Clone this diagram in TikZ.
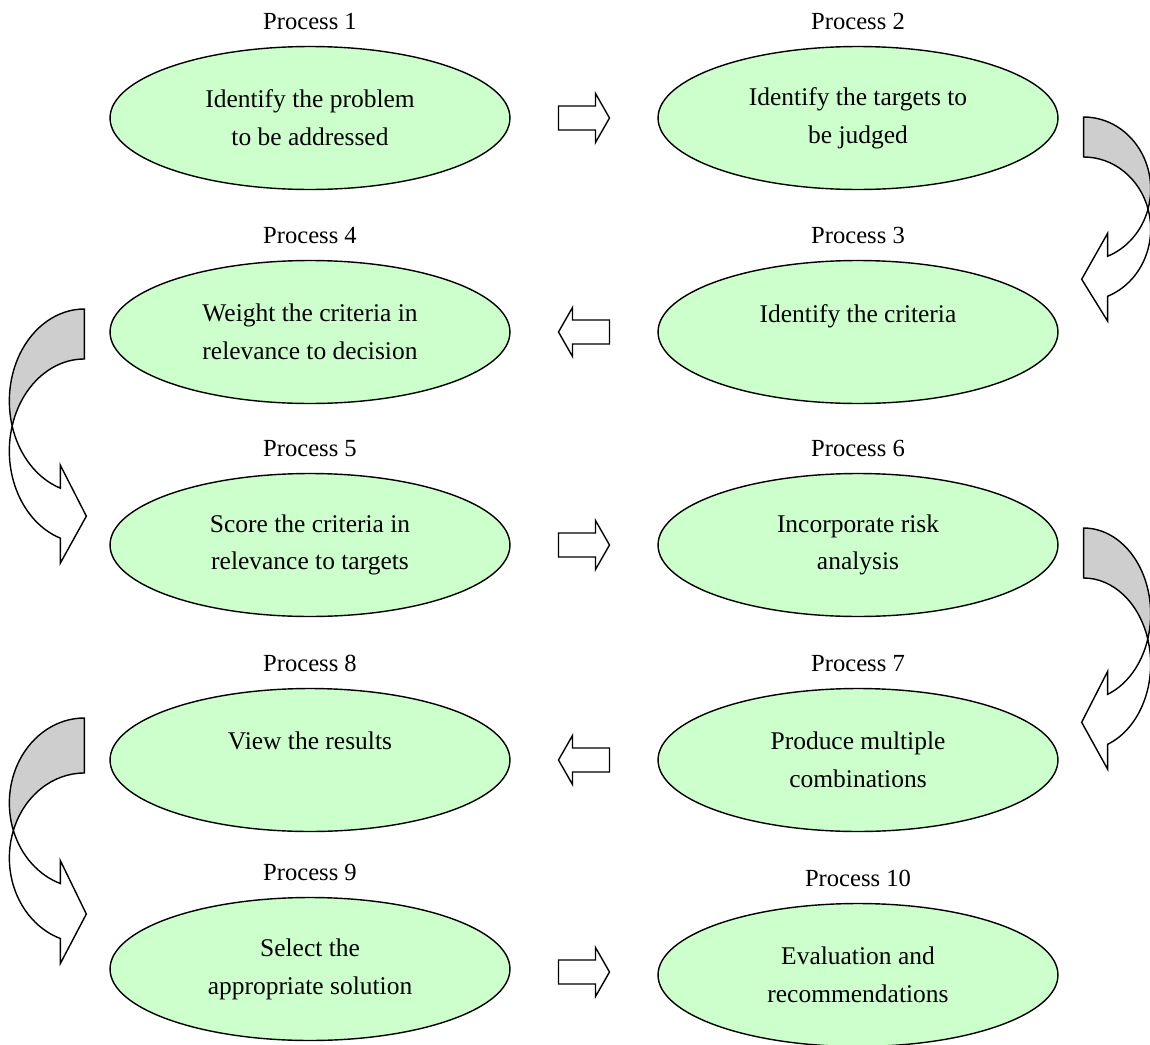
\documentclass[tikz,border=0pt]{standalone}
\usepackage{fontspec}
\setmainfont{Liberation Serif}
\usetikzlibrary{shapes.geometric, positioning, calc}
\definecolor{proc-green}{RGB}{204,255,204}
\definecolor{back-gray}{RGB}{206,206,206}

\begin{document}
\begin{tikzpicture}[
  x=0.02cm, y=-0.02cm,
  % Box styles
  procbox/.style   = {ellipse, draw=black, fill=proc-green, line width=0.8pt,
                      minimum width=8cm, minimum height=2.86cm, inner sep=0pt,
                      align=center, font=\fontsize{14.5}{21.5}\selectfont},
  proclabel/.style = {font=\fontsize{14}{16}\selectfont, inner sep=2pt},
  % Arrow styles
  shapeline/.style = {draw=black, line width=0.8pt, line join=miter},
  pics/blockarrow/.style = {code={
    \draw[shapeline, fill=white] (-25.5,-12) -- (11.5,-12) -- (11.5,-24.5)
      -- (25.5,0) -- (11.5,24.5) -- (11.5,12) -- (-25.5,12) -- cycle;
  }},
  pics/curvearrow/.style n args = {3}{code={
    \pgfmathsetmacro\angcross{asin(#1/(2*#2))}
    \pgfmathsetmacro\angbase{acos(24/#3)}
    \pgfmathsetmacro\xcross{#3*cos(\angcross)}
    \pgfmathsetmacro\ycross{#2+#1/2}
    \pgfmathsetmacro\yin{#2+#2*sin(\angbase)}
    \pgfmathsetmacro\yout{\yin+#1}
    % back part
    \draw[shapeline, fill=back-gray] (0,0)
      arc[start angle=-90, end angle=\angcross, x radius=#3, y radius=#2]
      arc[start angle=-\angcross, end angle=-90, x radius=#3, y radius=#2] -- cycle;
    % front part with the head
    \draw[shapeline, fill=white] (\xcross,\ycross)
      arc[start angle=\angcross, end angle=\angbase, x radius=#3, y radius=#2]
      -- (24,\yin-23) -- (-2,{(\yin+\yout)/2+3}) -- (24,\yout+25) -- (24,\yout)
      arc[start angle=\angbase, end angle=-\angcross, x radius=#3, y radius=#2] -- cycle;
  }},
]

\useasboundingbox (0,0) rectangle (1150,1045);

% Processes
\node[procbox] (p1)  at (310,118) {Identify the problem\\to be addressed};
\node[procbox] (p2)  at (858,118) {Identify the targets to\\be judged};
\node[procbox] (p3)  at (858,332) {Identify the criteria\\\mbox{}};
\node[procbox] (p4)  at (310,332) {Weight the criteria in\\relevance to decision};
\node[procbox] (p5)  at (310,545) {Score the criteria in\\relevance to targets};
\node[procbox] (p6)  at (858,545) {Incorporate risk\\analysis};
\node[procbox] (p7)  at (858,760) {Produce multiple\\combinations};
\node[procbox] (p8)  at (310,760) {View the results\\\mbox{}};
\node[procbox] (p9)  at (310,969) {Select the\\appropriate solution};
\node[procbox] (p10) at (858,975) {Evaluation and\\recommendations};

\foreach \n in {1,...,10}
  \node[proclabel, above=0.25cm of p\n] (lab\n) {Process \n};

% Straight arrows
\pic at ($(p1.east)!.5!(p2.west)$) {blockarrow};
\pic[xscale=-1] at ($(p3.west)!.5!(p4.east)$) {blockarrow};
\pic at ($(p5.east)!.5!(p6.west)$) {blockarrow};
\pic[xscale=-1] at ($(p7.west)!.5!(p8.east)$) {blockarrow};
\pic at ($(p9.east)!.5!(p10.west)$) {blockarrow};

% Curved arrows
\pic at ($(p2.east)+(25,-1)$) {curvearrow={40}{72}{67}};
\pic[xscale=-1] at ($(p4.west)+(-25,-23)$) {curvearrow={50}{92}{75}};
\pic at ($(p6.east)+(25,-17)$) {curvearrow={50}{86}{67}};
\pic[xscale=-1] at ($(p8.west)+(-25,-42)$) {curvearrow={55}{85}{75}};

\end{tikzpicture}
\end{document}
